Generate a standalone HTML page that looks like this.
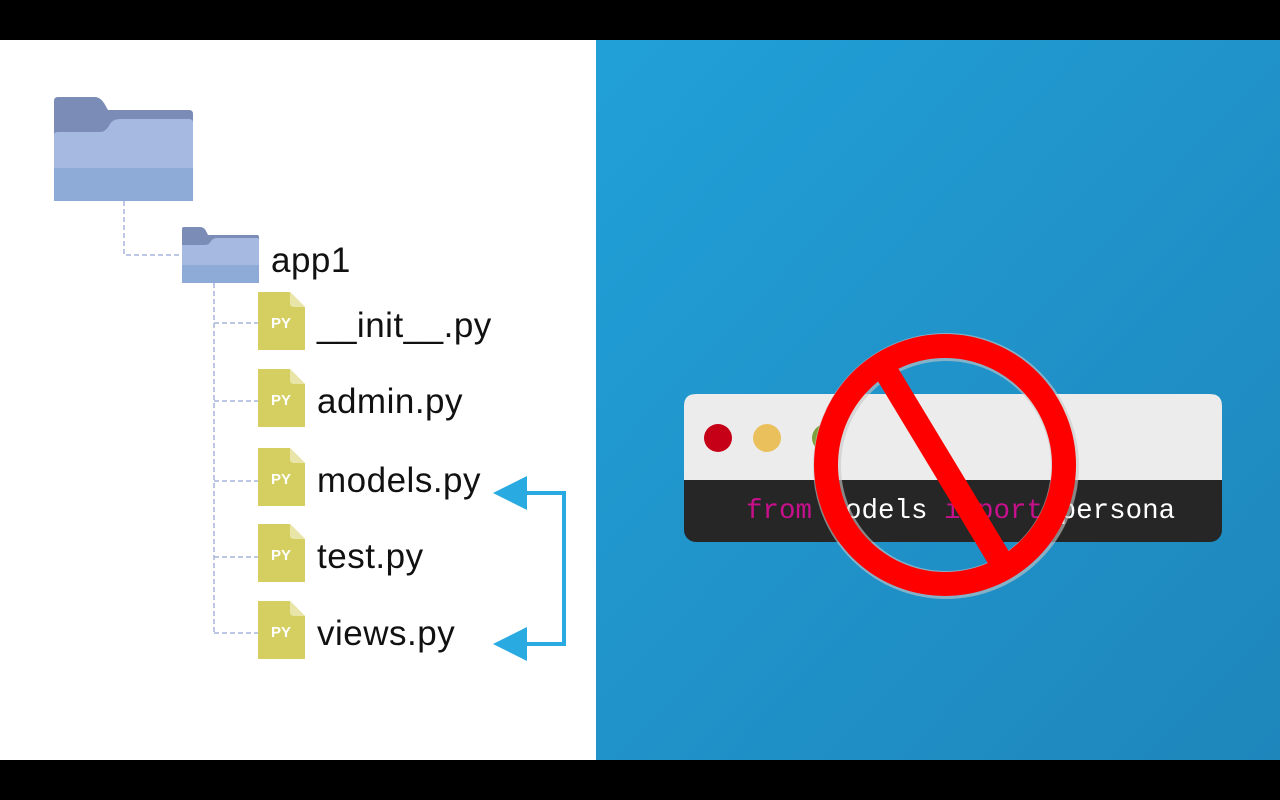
<!DOCTYPE html>
<html><head><meta charset="utf-8"><style>
html,body{margin:0;padding:0;background:#000;}
svg{display:block}
</style></head><body>
<svg width="1280" height="800" viewBox="0 0 1280 800" xmlns="http://www.w3.org/2000/svg">
<defs>
<linearGradient id="bg" x1="0" y1="0" x2="1" y2="1">
<stop offset="0" stop-color="#21a0d8"/><stop offset="1" stop-color="#1e86bb"/>
</linearGradient>
<g id="py">
<path d="M0 0 H32 L47 15 V58 H0 Z" fill="#d5cf62"/>
<path d="M32 0 L47 15 H36 Q32 15 32 11 Z" fill="#e9e4a8"/>
<text x="13" y="36" font-family="Liberation Sans, sans-serif" font-weight="bold" font-size="15" fill="#fff">PY</text>
</g>
</defs>
<rect width="1280" height="800" fill="#000"/>
<rect x="0" y="40" width="596" height="720" fill="#fff"/>
<rect x="596" y="40" width="684" height="720" fill="url(#bg)"/>

<g stroke="#a9b6dc" stroke-width="1.5" stroke-dasharray="5,3" fill="none">
<path d="M124 201 V255 H182"/>
<path d="M214 283 V633"/>
<path d="M214 323 H258 M214 401 H258 M214 481 H258 M214 557 H258 M214 633 H258"/>
</g>

<path d="M54 101 Q54 97 58 97 H95 Q100 97 104 103 L108 110 H189 Q193 110 193 114 V201 H54 Z" fill="#7b8cb7"/>
<path d="M54 135 Q54 132 58 132 H100 Q106 132 110 124 Q113 119 120 119 H189 Q193 119 193 123 V201 H54 Z" fill="#a5b9e1"/>
<rect x="54" y="168" width="139" height="33" fill="#8eaad6"/>

<path d="M182 229 Q182 227 184 227 H200 Q204 227 206 231 L208 235 H257 Q259 235 259 237 V283 H182 Z" fill="#7b8cb7"/>
<path d="M182 245 H205 Q209 245 211 241 Q213 238 217 238 H257 Q259 238 259 240 V283 H182 Z" fill="#a5b9e1"/>
<rect x="182" y="265" width="77" height="18" fill="#8eaad6"/>

<use href="#py" x="258" y="292"/>
<use href="#py" x="258" y="369"/>
<use href="#py" x="258" y="448"/>
<use href="#py" x="258" y="524"/>
<use href="#py" x="258" y="601"/>
<g font-family="Liberation Sans, sans-serif" font-size="35" fill="#111" letter-spacing="0.5">
<text x="271" y="272">app1</text>
<text x="317" y="337">__init__.py</text>
<text x="317" y="413">admin.py</text>
<text x="317" y="492">models.py</text>
<text x="317" y="568">test.py</text>
<text x="317" y="645">views.py</text>
</g>

<path d="M524 493 H564 V644 H524" fill="none" stroke="#29aae1" stroke-width="4"/>
<polygon points="493,493 527,476 527,510" fill="#29aae1"/>
<polygon points="493,644 527,627 527,661" fill="#29aae1"/>

<rect x="684" y="394" width="538" height="148" rx="12" fill="#262626"/>
<path d="M684 480 V406 Q684 394 696 394 H1210 Q1222 394 1222 406 V480 Z" fill="#ececec"/>
<circle cx="718" cy="438" r="14" fill="#c60017"/>
<circle cx="767" cy="438" r="14" fill="#eac05d"/>
<circle cx="826" cy="438" r="14" fill="#7da13c"/>
<text x="746" y="518" font-family="Liberation Mono, DejaVu Sans Mono, monospace" font-size="27.5" xml:space="preserve"><tspan fill="#c8108c">from</tspan><tspan fill="#fff"> models </tspan><tspan fill="#c8108c">import</tspan><tspan fill="#fff"> persona</tspan></text>

<circle cx="946" cy="466" r="119" fill="none" stroke="#c8c8c8" stroke-width="28" opacity="0.6"/>
<circle cx="945" cy="465" r="119" fill="none" stroke="#fe0000" stroke-width="24"/>
<line x1="887" y1="373" x2="1000" y2="560" stroke="#fe0000" stroke-width="24"/>
</svg>
</body></html>
